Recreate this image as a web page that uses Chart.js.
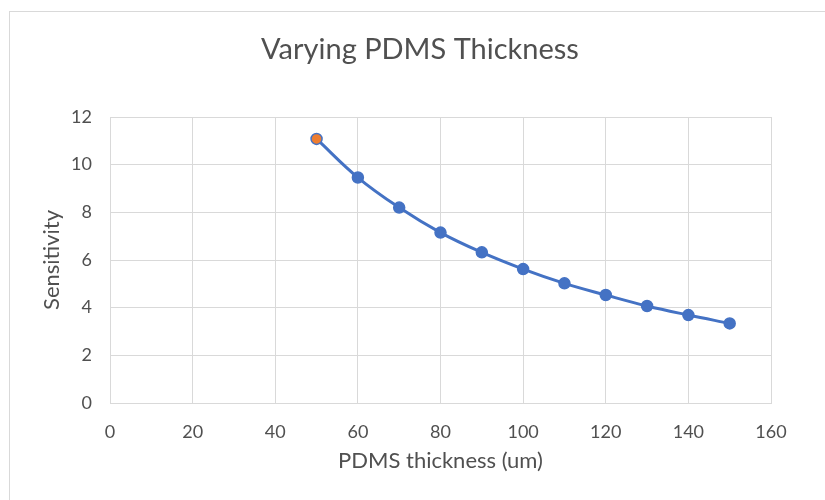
<!DOCTYPE html>
<html>
<head>
<meta charset="utf-8">
<script src="https://cdn.jsdelivr.net/npm/chart.js@4"></script>
<style>
  html, body { margin: 0; padding: 0; background: #fff; }
  #wrap { width: 825px; height: 500px; position: relative; }
</style>
</head>
<body>
<div id="wrap"><canvas id="c" width="825" height="500"></canvas></div>
<script>
const chartTitle = "Varying PDMS Thickness";
const xAxisTitle = "PDMS thickness (um)";
const yAxisTitle = "Sensitivity";
const thickness = [50, 60, 70, 80, 90, 100, 110, 120, 130, 140, 150];
const sensitivity = [11.08, 9.46, 8.20, 7.15, 6.32, 5.62, 5.02, 4.53, 4.07, 3.69, 3.34];

const FONT = "Lato, 'Open Sans', sans-serif";
const BLUE = "#4472C4";
const ORANGE = "#ED7D31";
const GRID = "#d9d9d9";
const TEXT = "#505050";

const framePlugin = {
  id: 'frame',
  beforeDraw(chart) {
    const ctx = chart.ctx;
    ctx.save();
    ctx.strokeStyle = GRID;
    ctx.lineWidth = 1;
    ctx.strokeRect(9.5, 11.5, 900, 600);
    ctx.restore();
  },
  afterDraw(chart) {
    const ctx = chart.ctx;
    ctx.save();
    ctx.fillStyle = TEXT;
    ctx.font = "29px " + FONT;
    ctx.textAlign = 'center';
    ctx.textBaseline = 'middle';
    ctx.fillText(chartTitle, 420, 50);
    ctx.restore();
  }
};

const pointFill = thickness.map((t, i) => i === 0 ? ORANGE : BLUE);

new Chart(document.getElementById('c'), {
  type: 'line',
  data: {
    datasets: [{
      label: yAxisTitle,
      data: thickness.map((x, i) => ({ x: x, y: sensitivity[i] })),
      borderColor: BLUE,
      borderWidth: 3,
      backgroundColor: BLUE,
      pointBackgroundColor: pointFill,
      pointBorderColor: BLUE,
      pointBorderWidth: 1.5,
      pointRadius: 5.5,
      tension: 0.4,
      fill: false
    }]
  },
  options: {
    responsive: false,
    animation: false,
    layout: { padding: { left: 33, right: 54, top: 117, bottom: 20 } },
    plugins: {
      legend: { display: false },
      tooltip: { enabled: false },
      title: { display: false }
    },
    scales: {
      x: {
        type: 'linear',
        min: 0, max: 160,
        ticks: { stepSize: 20, color: TEXT, font: { family: FONT, size: 18 }, padding: 18 },
        grid: { color: GRID, drawTicks: false },
        border: { color: GRID },
        title: { display: true, text: xAxisTitle, color: TEXT, font: { family: FONT, size: 22 }, padding: { top: 0, bottom: 6 } },
        afterFit(s) { s.height = 77; }
      },
      y: {
        min: 0, max: 12,
        ticks: { stepSize: 2, color: TEXT, font: { family: FONT, size: 18 }, padding: 18 },
        grid: { color: GRID, drawTicks: false },
        border: { color: GRID },
        title: { display: true, text: yAxisTitle, color: TEXT, font: { family: FONT, size: 22 }, padding: { top: 6, bottom: 0 } },
        afterFit(s) { s.width = 77; }
      }
    }
  },
  plugins: [framePlugin]
});
</script>
</body>
</html>
